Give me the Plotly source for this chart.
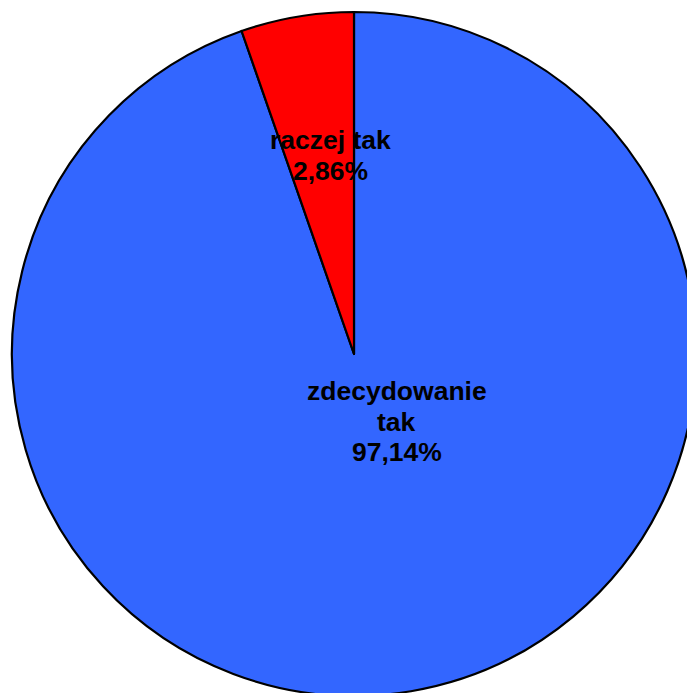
import plotly.graph_objects as go

categories = ["zdecydowanie tak", "raczej tak"]
# slice sizes as drawn in the picture (share of the circle)
shares = [94.67, 5.33]
# percentages printed in the labels
percent_labels = ["97,14%", "2,86%"]
colors = ["#3366FF", "#FF0000"]

fig = go.Figure(go.Pie(
    labels=categories,
    values=shares,
    sort=False,
    direction="clockwise",
    rotation=0,
    marker=dict(colors=colors, line=dict(color="black", width=2.2)),
    textinfo="none",
    hoverinfo="label",
    showlegend=False,
    domain=dict(x=[0, 1], y=[0, 1]),
))

font = dict(family="Liberation Sans, Arial, sans-serif", size=26.5, color="black")

def px_to_paper(x, y):
    return (x - 12) / 684, 1 - (y - 12) / 684

label_lines = [
    (["zdecydowanie", "tak", percent_labels[0]], 396.5, 391),
    (["raczej tak", percent_labels[1]], 330, 140),
]
for lines, cx, cy in label_lines:
    for i, line in enumerate(lines):
        x, y = px_to_paper(cx, cy + i * 30.5)
        fig.add_annotation(text="<b>" + line + "</b>", x=x, y=y,
                           xref="paper", yref="paper", showarrow=False, font=font,
                           xanchor="center", yanchor="middle", align="center")

fig.update_layout(
    width=708, height=708,
    margin=dict(l=12, r=12, t=12, b=12),
    paper_bgcolor="white",
    plot_bgcolor="white",
)

fig.write_html("out.html", config={"displayModeBar": False},
               post_script="document.body.style.margin='0';document.body.style.overflow='hidden';document.documentElement.style.overflow='hidden';")
